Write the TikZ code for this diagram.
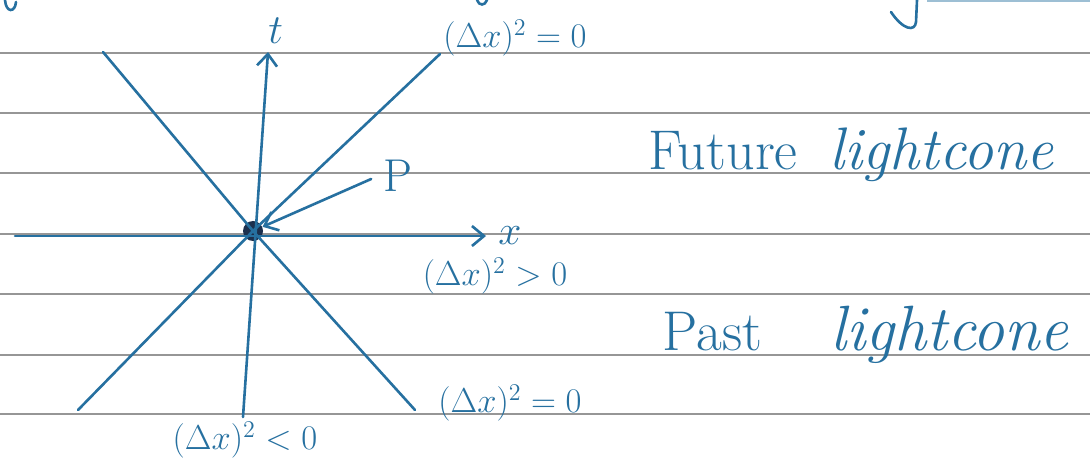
\documentclass[tikz,border=0pt]{standalone}
\usepackage{amsmath, amssymb}
\usepackage{xcolor}
\usepackage{tikz}
\usetikzlibrary{arrows.meta, positioning}

\definecolor{ink}{RGB}{38,112,160}
\definecolor{inkdark}{RGB}{28,48,78}
\definecolor{ruleline}{RGB}{150,150,150}

\begin{document}
\begin{tikzpicture}[
        x=0.5pt, y=-0.5pt,
        % Styles
        pen/.style={draw=ink, line width=1.3pt, line cap=round},
        axis/.style={pen, -{Straight Barb[length=6pt, width=10pt, line width=1.3pt]}},
        ruling/.style={draw=ruleline, line width=0.8pt},
        formula/.style={text=ink, inner sep=0pt, font=\fontsize{17}{20}\selectfont},
        axislabel/.style={text=ink, inner sep=0pt, font=\fontsize{22}{26}\selectfont},
        words/.style={text=ink, inner sep=0pt, font=\fontsize{28}{32}\selectfont}
    ]

        % Paper
        \useasboundingbox (0,0) rectangle (1090,464);
        \fill[white] (0,0) rectangle (1090,464);
        \foreach \y in {53,113,173,234,294,355,414}
            \draw[ruling] (0,\y) -- (1090,\y);

        % Bits of the line above
        \draw[pen] (5,0) .. controls (6,13) and (15,13) .. (16,2);
        \draw[pen] (477,0) .. controls (479,6) and (485,6) .. (487,0);
        \draw[pen] (917,0) -- (916,22) .. controls (915,32) and (903,30) .. (891,12);
        \fill[ink!45] (927,0) rectangle (1090,2.5);

        % Event P
        \node[circle, fill=inkdark, inner sep=0pt, minimum size=10pt] (dot) at (253,231) {};
        \coordinate (P) at (dot.center);

        % Ends of the lines
        \coordinate (futL) at (103,52);
        \coordinate (futR) at (440,54);
        \coordinate (pastL) at (78,410);
        \coordinate (pastR) at (415,410);
        \coordinate (tbot) at (243,417);
        \coordinate (ttop) at (268,52);
        \coordinate (xleft) at (15,236);
        \coordinate (xright) at (486,236);

        % Lightcone
        \draw[pen] (futL) -- (P) -- (pastR);
        \draw[pen] (futR) -- (P) -- (pastL);

        % Axes
        \draw[axis] (tbot) -- (ttop);
        \draw[axis] (xleft) -- (xright);
        \node[axislabel, above right=4pt and 0pt of ttop] (tlab) {$t$};
        \node[axislabel, right=6pt of xright] (xlab) {$x$};

        % Label for P
        \node[axislabel, font=\fontsize{23}{26}\selectfont] (plab) at (398,176) {P};
        \draw[axis] (plab.west) ++(-12,3) coordinate (pstart) (pstart) -- (dot);

        % Intervals
        \node[formula, anchor=south west] (nulltop) at (443,57) {$(\Delta x)^2 = 0$};
        \node[formula] (space) at (495,276) {$(\Delta x)^2 > 0$};
        \node[formula] (nullbot) at (510,403) {$(\Delta x)^2 = 0$};
        \node[formula] (time) at (245,440) {$(\Delta x)^2 < 0$};

        % Regions
        \node[words, anchor=base] (future) at (851,170) {Future\hspace{16pt}{\fontsize{30}{34}\selectfont\textit{lightcone}}};
        \node[words, anchor=base] (past) at (866,350) {Past\hspace{34pt}{\fontsize{32}{36}\selectfont\textit{lightcone}}};

    \end{tikzpicture}
\end{document}
